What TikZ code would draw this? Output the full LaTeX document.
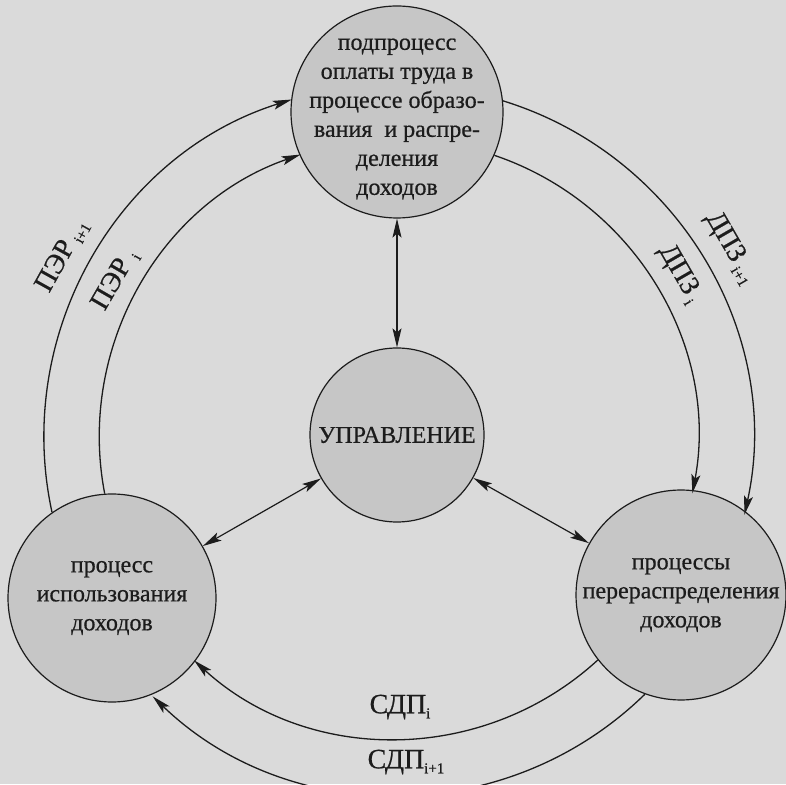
\documentclass[tikz,border=0pt]{standalone}
\usepackage{fontspec}
\setmainfont{Liberation Serif}
\newfontfamily\inkfont{Liberation Serif}[FakeBold=0.6]
\usetikzlibrary{arrows.meta,calc}
\definecolor{bgc}{HTML}{DADADA}
\definecolor{circc}{HTML}{C6C6C6}
\definecolor{ink}{HTML}{1C1C1C}
\tikzset{
  proc/.style={circle, draw=ink, line width=1.2pt, fill=circc, inner sep=0pt,
    align=center, text=ink, font=\inkfont\fontsize{24}{29}\selectfont},
  tipx/.tip={Stealth[length=19pt,width=9pt,inset=4pt]},
  flow/.style={draw=ink, line width=1.3pt, -tipx},
  both/.style={draw=ink, line width=1.2pt, tipx-tipx},
  lab/.style={text=ink, font=\inkfont\fontsize{28}{32}\selectfont, inner sep=0pt},
}
\newcommand{\sbs}[1]{\raisebox{-5pt}{\fontsize{15}{15}\selectfont #1}}
\begin{document}
\begin{tikzpicture}[x=1pt,y=1pt]
\fill[bgc] (0,0) rectangle (786,784);
\useasboundingbox (0,0) rectangle (786,784);
\coordinate (O) at (398,346);
% circles
\node[proc, minimum size=212pt] (T) at (397,672) {};
\node[proc, draw=none, fill=none, minimum size=0pt] (Ttext) at (397,665)
  {подпроцесс\\оплаты труда в\\процессе образо-\\вания\ \ и распре-\\деления\\доходов};
\node[proc, minimum size=174pt] (C) at (397,349) {УПРАВЛЕНИЕ};
\node[proc, minimum size=208pt] (L) at (112,186) {процесс\\использования\\доходов};
\node[proc, minimum size=206pt] (R) at (681,189) {процессы\\перераспределения\\доходов};
% straight double arrows
\draw[both] (T) -- (C);
\draw[both] (C) -- (L);
\draw[both] (C) -- (R);
% arcs concentric with O
\draw[flow] (L.125.2) arc[start angle=192.25, end angle=107.46, radius=354pt];
\draw[flow] (L.94.2) arc[start angle=190.9, end angle=109.07, radius=299pt];
\draw[flow] (T.6.5) arc[start angle=72.85, end angle=-12.35, radius=354pt];
\draw[flow] (T.-24) arc[start angle=71.29, end angle=-10.56, radius=299pt];
\draw[flow] (R.-110.4) arc[start angle=-45.7, end angle=-133.8, radius=354pt];
\draw[flow] (R.218.1) arc[start angle=-47.48, end angle=-132.4, radius=299pt];
% labels
\node[lab, rotate=61] (p1) at ([shift={(151.5:382pt)}]O) {ПЭР\,\sbs{i+1}};
\node[lab, rotate=60] (p0) at ([shift={(150.8:324pt)}]O) {ПЭР\ \sbs{i}};
\node[lab, rotate=-60] (d1) at ([shift={(29.7:383pt)}]O) {ДПЗ\,\sbs{i+1}};
\node[lab, rotate=-60] (d0) at ([shift={(30.2:326pt)}]O) {ДПЗ\,\sbs{i}};
\node[lab] (s0) at (400,77) {СДП\sbs{i}};
\node[lab] (s1) at (406,22) {СДП\sbs{i+1}};
\end{tikzpicture}
\end{document}
